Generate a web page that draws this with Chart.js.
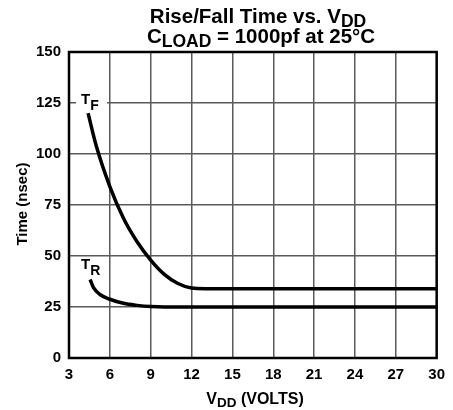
<!DOCTYPE html>
<html>
<head>
<meta charset="utf-8">
<script src="https://cdn.jsdelivr.net/npm/chart.js@4"></script>
<style>
  body { margin: 0; background: #fff; }
  canvas { display: block; }
</style>
</head>
<body>
<canvas id="rise-fall-canvas" width="453" height="410"></canvas>
<script>
// values
var xTicks = [3, 6, 9, 12, 15, 18, 21, 24, 27, 30];
var yTicks = [0, 25, 50, 75, 100, 125, 150];

var vddFall = [4.4, 5, 6, 7, 8, 9, 10, 11, 12, 13, 30];
var timeFall = [120, 104, 84, 68.5, 57, 48, 41, 36.5, 34.3, 34, 34];

var vddRise = [4.55, 4.8, 5.3, 6, 7, 8, 9, 10, 30];
var timeRise = [38.5, 34.5, 31, 28.8, 26.8, 25.8, 25.2, 25, 25];

var FONT = '"Liberation Sans", Arial, Helvetica, sans-serif';

function pairs(xs, ys) {
    return xs.map(function (x, i) { return { x: x, y: ys[i] }; });
}

// draw a run of text pieces (normal + subscript) starting at x
function runWidth(ctx, parts) {
    var w = 0;
    parts.forEach(function (p) {
        ctx.font = 'bold ' + p.size + 'px ' + FONT;
        w += ctx.measureText(p.t).width;
    });
    return w;
}
function drawRun(ctx, parts, x, y) {
    parts.forEach(function (p) {
        ctx.font = 'bold ' + p.size + 'px ' + FONT;
        ctx.fillText(p.t, x, y + (p.dy || 0));
        x += ctx.measureText(p.t).width;
    });
}
function drawRunCentered(ctx, parts, cx, y) {
    drawRun(ctx, parts, cx - runWidth(ctx, parts) / 2, y);
}

var textPlugin = {
    id: 'textPlugin',
    afterDraw: function (chart) {
        var ctx = chart.ctx;
        var a = chart.chartArea;
        var xs = chart.scales.x, ys = chart.scales.y;
        ctx.save();
        ctx.fillStyle = '#000';
        ctx.textBaseline = 'alphabetic';
        ctx.textAlign = 'left';

        // frame
        ctx.strokeStyle = '#000';
        ctx.lineWidth = 2.5;
        ctx.strokeRect(a.left, a.top, a.right - a.left, a.bottom - a.top);

        // title
        drawRunCentered(ctx, [
            { t: 'Rise/Fall Time vs. V', size: 20.5 },
            { t: 'DD', size: 17.5, dy: 4 }
        ], 258, 23);
        drawRunCentered(ctx, [
            { t: 'C', size: 20.5 },
            { t: 'LOAD', size: 17.5, dy: 4 },
            { t: ' = 1000pf at 25\u00B0C', size: 20.5 }
        ], 261, 43);

        // x axis title
        drawRunCentered(ctx, [
            { t: 'V', size: 16 },
            { t: 'DD', size: 13.5, dy: 3 },
            { t: ' (VOLTS)', size: 16 }
        ], 255, 404);

        // y axis title
        ctx.save();
        ctx.translate(27, 204);
        ctx.rotate(-Math.PI / 2);
        ctx.font = 'bold 15px ' + FONT;
        ctx.textAlign = 'center';
        ctx.fillText('Time (nsec)', 0, 0);
        ctx.restore();

        // curve labels
        var fx = xs.getPixelForValue(4.4), fy = ys.getPixelForValue(125);
        ctx.fillStyle = '#fff';
        ctx.fillRect(fx - 12, fy - 6, 31, 12);
        ctx.fillStyle = '#000';
        var tF = [{ t: 'T', size: 15 }, { t: 'F', size: 14, dy: 6 }];
        drawRun(ctx, tF, fx - 7, fy + 1);

        var rx = xs.getPixelForValue(4.4), ry = ys.getPixelForValue(45);
        var tR = [{ t: 'T', size: 15 }, { t: 'R', size: 14, dy: 6 }];
        drawRun(ctx, tR, rx - 7, ry + 3);

        ctx.restore();
    }
};

var ctx = document.getElementById('rise-fall-canvas').getContext('2d');
var myChart = new Chart(ctx, {
    type: 'line',
    data: {
        datasets: [{
            label: 'TF',
            data: pairs(vddFall, timeFall),
            borderColor: '#000',
            borderWidth: 3.5,
            pointRadius: 0,
            cubicInterpolationMode: 'monotone',
            fill: false
        }, {
            label: 'TR',
            data: pairs(vddRise, timeRise),
            borderColor: '#000',
            borderWidth: 3.5,
            pointRadius: 0,
            cubicInterpolationMode: 'monotone',
            fill: false
        }]
    },
    options: {
        responsive: false,
        animation: false,
        layout: { padding: { top: 52, right: 13, left: 0, bottom: 0 } },
        plugins: {
            legend: { display: false },
            title: { display: false },
            tooltip: { enabled: false }
        },
        scales: {
            x: {
                type: 'linear',
                min: 3,
                max: 30,
                afterBuildTicks: function (scale) {
                    scale.ticks = xTicks.map(function (v) { return { value: v }; });
                },
                afterFit: function (scale) { scale.height = 52; },
                grid: { color: '#5a5a5a', lineWidth: 1.5, tickLength: 0 },
                border: { display: false },
                ticks: {
                    color: '#000',
                    padding: 8,
                    maxRotation: 0,
                    font: { family: FONT, size: 15, weight: 'bold' }
                }
            },
            y: {
                min: 0,
                max: 150,
                afterBuildTicks: function (scale) {
                    scale.ticks = yTicks.map(function (v) { return { value: v }; });
                },
                afterFit: function (scale) { scale.width = 69; },
                grid: { color: '#5a5a5a', lineWidth: 1.5, tickLength: 0 },
                border: { display: false },
                ticks: {
                    color: '#000',
                    padding: 8,
                    font: { family: FONT, size: 15, weight: 'bold' }
                }
            }
        }
    },
    plugins: [textPlugin]
});
</script>
</body>
</html>
